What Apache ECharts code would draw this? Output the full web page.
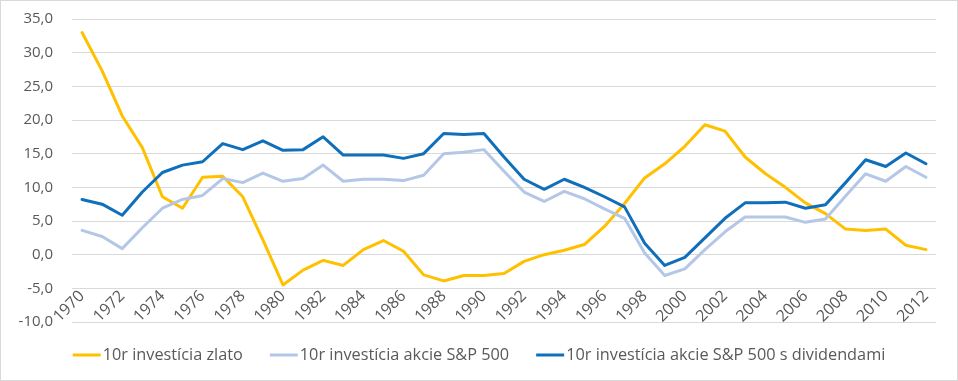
<!DOCTYPE html>
<html>
<head>
<meta charset="utf-8">
<script src="https://cdn.jsdelivr.net/npm/echarts@6/dist/echarts.min.js"></script>
<style>
html,body{margin:0;padding:0;background:#fff;}
#chart{width:958px;height:381px;box-sizing:border-box;border:1px solid #d9d9d9;}
</style>
</head>
<body>
<div id="chart"></div>
<script>
var years = [];
for (var y = 1970; y <= 2012; y++) years.push(String(y));

var seriesNames = ['10r investícia zlato', '10r investícia akcie S&P 500', '10r investícia akcie S&P 500 s dividendami'];

var gold = [33.0, 27.3, 20.6, 15.9, 8.6, 6.9, 11.5, 11.65, 8.6, 2.2, -4.5, -2.3, -0.85, -1.6, 0.75, 2.1, 0.5, -3.0, -3.9, -3.1, -3.1, -2.8, -1.0, 0.0, 0.65, 1.5, 4.2, 7.6, 11.4, 13.5, 16.1, 19.3, 18.35, 14.5, 12.05, 10.0, 7.7, 6.1, 3.8, 3.6, 3.8, 1.4, 0.75];

var sp500 = [3.6, 2.7, 0.9, 4.0, 6.9, 8.2, 8.8, 11.3, 10.7, 12.1, 10.9, 11.3, 13.3, 10.9, 11.2, 11.2, 11.0, 11.8, 15.0, 15.2, 15.6, 12.4, 9.3, 7.9, 9.4, 8.3, 6.8, 5.4, 0.25, -3.1, -2.1, 0.75, 3.4, 5.6, 5.6, 5.6, 4.8, 5.3, 8.7, 12.0, 10.9, 13.1, 11.5];

var sp500div = [8.2, 7.5, 5.85, 9.3, 12.2, 13.3, 13.8, 16.5, 15.6, 16.9, 15.5, 15.6, 17.5, 14.8, 14.8, 14.8, 14.3, 15.0, 18.0, 17.85, 18.0, 14.5, 11.2, 9.7, 11.2, 10.0, 8.6, 7.1, 1.7, -1.6, -0.4, 2.5, 5.4, 7.7, 7.7, 7.8, 6.9, 7.4, 10.7, 14.1, 13.1, 15.1, 13.5];

var colors = ['#FFC000', '#B4C7E7', '#0F6FBA'];
var FONT = 'Open Sans';

var chart = echarts.init(document.getElementById('chart'), null, {renderer: 'canvas'});

function mk(name, data, color) {
  return {
    name: name, type: 'line', data: data, symbol: 'none',
    lineStyle: {width: 3, color: color, cap: 'round', join: 'round'},
    itemStyle: {color: color}
  };
}

chart.setOption({
  animation: false,
  color: colors,
  grid: {left: 71, right: 21, top: 18, bottom: 58, containLabel: false},
  legend: {
    bottom: 12, left: 'center',
    itemWidth: 28, itemHeight: 3, itemGap: 27,
    icon: 'rect',
    textStyle: {fontFamily: FONT, fontSize: 16.3, color: '#595959', padding: [0,0,0,-3]},
    data: seriesNames
  },
  xAxis: {
    type: 'category', data: years, boundaryGap: true,
    offset: -67.5,
    axisLine: {onZero: false, show: false},
    axisTick: {show: false},
    axisLabel: {interval: 1, rotate: 45, margin: 39, fontFamily: FONT, fontSize: 16, color: '#595959'}
  },
  yAxis: {
    type: 'value', min: -10, max: 35, interval: 5,
    axisLine: {show: false}, axisTick: {show: false},
    splitLine: {lineStyle: {color: '#d9d9d9', width: 1}},
    axisLabel: {margin: 19, fontFamily: FONT, fontSize: 15, color: '#595959',
      formatter: function (v) { return v.toFixed(1).replace('.', ','); }}
  },
  series: [mk(seriesNames[0], gold, colors[0]), mk(seriesNames[1], sp500, colors[1]), mk(seriesNames[2], sp500div, colors[2])]
});
</script>
</body>
</html>
